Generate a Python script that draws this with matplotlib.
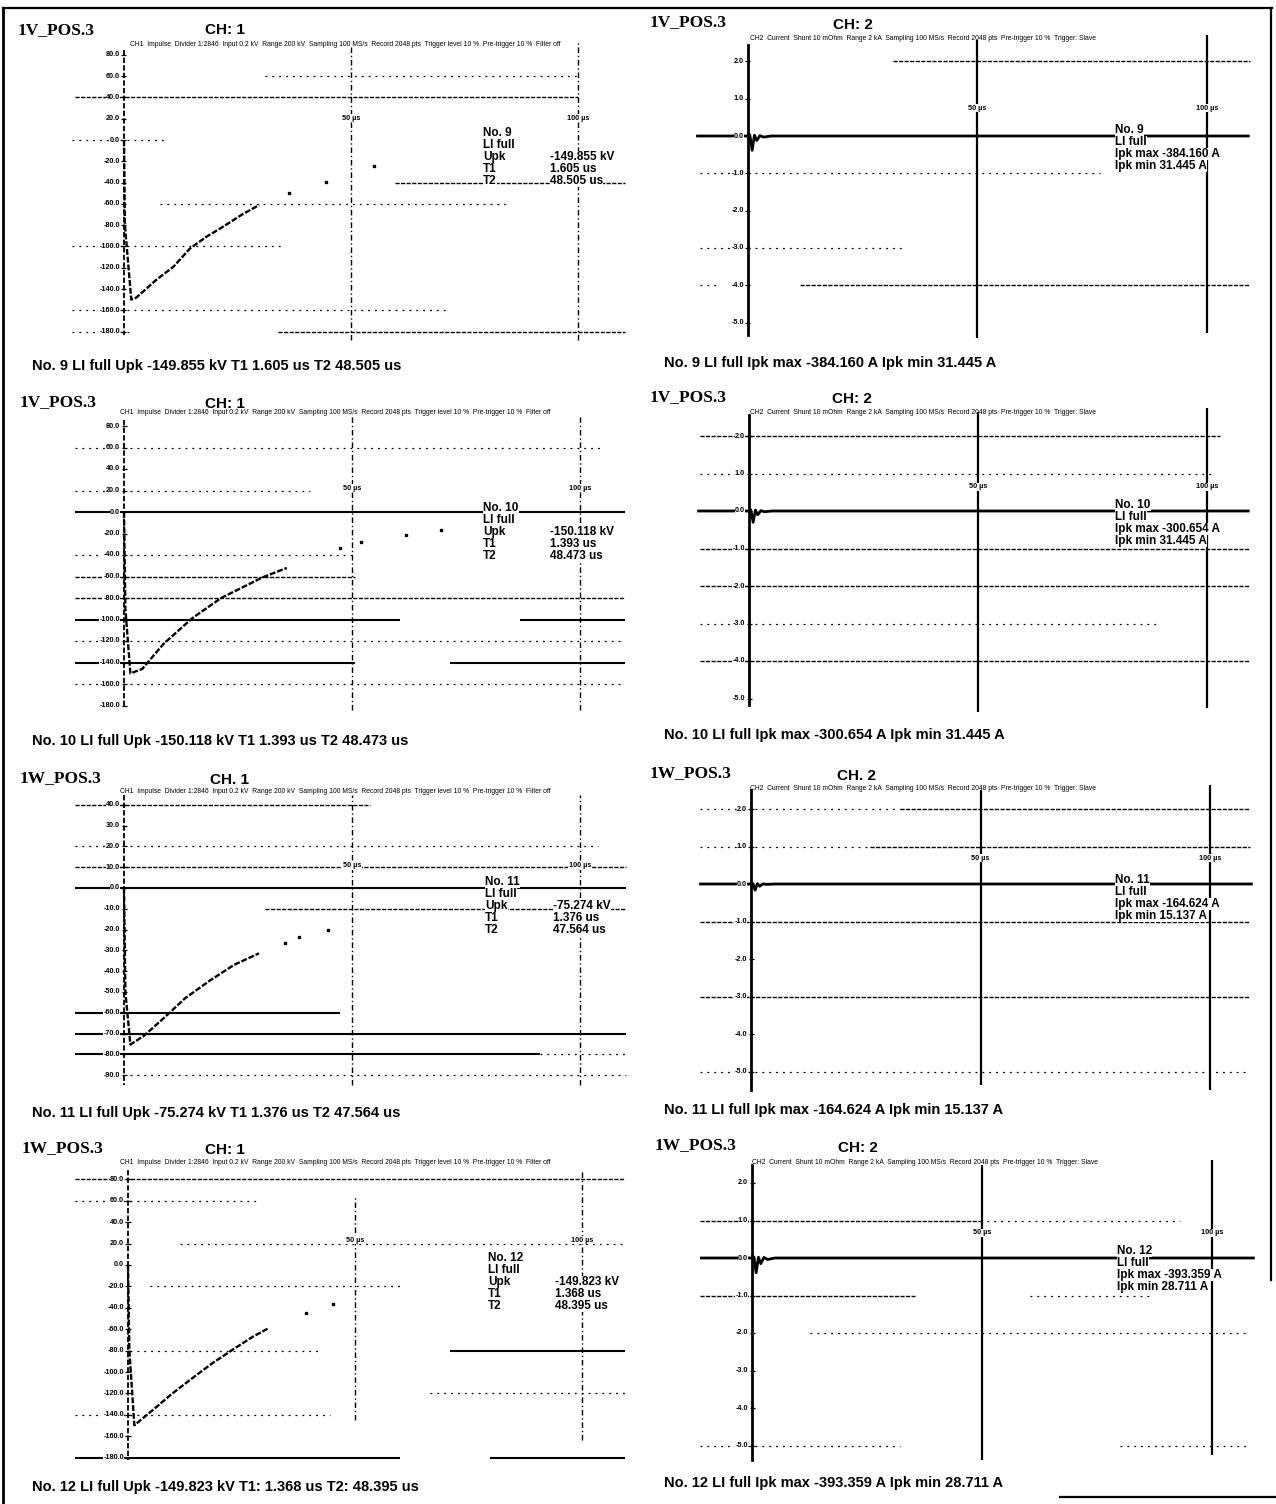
import matplotlib
matplotlib.use("Agg")
import matplotlib.pyplot as plt
from matplotlib.lines import Line2D

W, H = 1276, 1504

# Impulse records: one row per shot, CH1 = voltage, CH2 = current
RECORD_NO = [9, 10, 11, 12]
TEST_OBJECT = ["1V_POS.3", "1V_POS.3", "1W_POS.3", "1W_POS.3"]
CH1_NAME = ["CH: 1", "CH: 1", "CH. 1", "CH: 1"]
CH2_NAME = ["CH: 2", "CH: 2", "CH. 2", "CH: 2"]
UPK_KV = [-149.855, -150.118, -75.274, -149.823]
T1_US = [1.605, 1.393, 1.376, 1.368]
T2_US = [48.505, 48.473, 47.564, 48.395]
IPK_MAX_A = [-384.160, -300.654, -164.624, -393.359]
IPK_MIN_A = [31.445, 31.445, 15.137, 28.711]

MARKER_US = [50, 100]
MARKER_TEXT = ["50 µs", "100 µs"]

CH1_HEADER = ("CH1  Impulse  Divider 1:2846  Input 0.2 kV  Range 200 kV  "
              "Sampling 100 MS/s  Record 2048 pts  Trigger level 10 %  "
              "Pre-trigger 10 %  Filter off")
CH2_HEADER = ("CH2  Current  Shunt 10 mOhm  Range 2 kA  Sampling 100 MS/s  "
              "Record 2048 pts  Pre-trigger 10 %  Trigger: Slave")

# y-axis tick values
U_TICKS_KV = [
    list(range(80, -181, -20)),
    list(range(80, -181, -20)),
    list(range(40, -91, -10)),
    list(range(80, -181, -20)),
]
I_TICKS_A = list(range(2000, -5001, -1000))

# voltage traces, kV vs us (dense part of the record)
U_TIME = [
    [0.0, 0.2, 1.6, 2.7, 7.2, 10.9, 14.5, 18.1, 21.6, 26.0, 29.8],
    [0.0, 0.3, 1.4, 4.0, 8.6, 14.9, 21.3, 30.3, 35.7],
    [0.0, 0.3, 1.4, 4.4, 9.0, 13.4, 18.9, 24.1, 29.6],
    [0.0, 0.3, 1.4, 5.9, 9.5, 14.1, 18.5, 23.1, 27.5, 31.0],
]
U_VALUE = [
    [0, -80, UPK_KV[0], -148, -131, -119, -102, -91, -82, -70, -61],
    [0, -90, UPK_KV[1], -146, -123, -99, -80, -61, -52],
    [0, -50, UPK_KV[2], -71, -62, -53, -44.4, -37, -31.4],
    [0, -80, UPK_KV[3], -134, -121, -106, -92, -79, -67, -59],
]
# sparse samples on the tail
U_TAIL_TIME = [[36.4, 44.4, 55.0], [47.4, 52.0, 61.8, 69.5],
               [35.3, 38.4, 44.7], [39.2, 45.2]]
U_TAIL_VALUE = [[-50, -39, -24], [-33.5, -28, -21, -17],
                [-26.6, -23.7, -20], [-45, -36]]

# current traces, A vs us
I_TIME = [-11.0, 0.0, 0.4, 0.9, 1.4, 1.9, 2.6, 3.4, 5.0, 109.0]
I_VALUE = [
    [0, 0, IPK_MIN_A[0], IPK_MAX_A[0], 20, -120, 10, -30, 0, 0],
    [0, 0, IPK_MIN_A[1], IPK_MAX_A[1], 25, -100, 10, -20, 0, 0],
    [0, 0, IPK_MIN_A[2], IPK_MAX_A[2], 10, -60, 5, -10, 0, 0],
    [0, 0, IPK_MIN_A[3], IPK_MAX_A[3], 20, -150, 15, -40, 0, 0],
]

# grid rows as (level, from us, to us) with a parallel list of line kinds
U_GRID = [
    [(60, 31.1, 100), (40, -10.8, 100), (0, -11.5, 9), (-40, 59.7, 110.4),
     (-60, 7.9, 85), (-100, -11.5, 35.5), (-160, -11.5, 71.8),
     (-180, -11.5, 1.3), (-180, 33.9, 110.4)],
    [(60, -10.7, 104.4), (20, -10.7, 40.8), (0, -10.7, 109.9),
     (-40, -10.7, 50.7), (-60, -10.7, 50.7), (-80, -10.7, 109.9),
     (-100, -10.7, 60.5), (-100, 86.8, 109.9), (-120, -10.7, 109.9),
     (-140, -10.7, 50.7), (-140, 71.5, 109.9), (-160, -10.7, 109.9)],
    [(40, -10.7, 54), (20, -10.7, 104), (10, -10.7, 110), (0, -10.7, 110),
     (-10, 31, 110), (-60, -10.7, 47.4), (-70, -10.7, 110),
     (-80, -10.7, 91.2), (-80, 91.2, 110), (-90, 1.3, 110)],
    [(80, -11.7, 109.5), (60, -11.7, 29), (20, 11.5, 109.5), (-20, 4.8, 60),
     (-80, 0.4, 42.3), (-80, 70.9, 109.5), (-120, 66.5, 109.5),
     (-140, -11.7, 44.5), (-180, -11.7, 60), (-180, 79.7, 109.5)],
]
U_GRID_KIND = [
    ["sparse", "dense", "sparse", "dense", "sparse", "sparse", "sparse",
     "sparse", "dense"],
    ["sparse", "sparse", "solid", "sparse", "dense", "dense", "solid",
     "solid", "sparse", "solid", "solid", "sparse"],
    ["dense", "sparse", "dense", "solid", "dense", "solid", "solid",
     "solid", "sparse", "sparse"],
    ["dense", "sparse", "sparse", "sparse", "sparse", "solid", "sparse",
     "sparse", "solid", "solid"],
]
I_GRID = [
    [(2000, 31.6, 109.4), (-1000, -10.5, 76.7), (-3000, -10.5, 34.2),
     (-4000, -10.5, -6.1), (-4000, 11.3, 109.4)],
    [(2000, -10.7, 102.8), (1000, -10.7, 101.7), (-1000, -10.7, 109.4),
     (-2000, -10.7, 109.4), (-3000, -10.7, 89.7), (-4000, -10.7, 109.4)],
    [(2000, -11.1, 32.5), (2000, 32.5, 108.7), (1000, -11.1, 25.9),
     (1000, 25.9, 108.7), (-1000, -11.1, 108.7), (-3000, -11.1, 108.7),
     (-5000, -11.1, 108.7)],
    [(1000, -11.3, 49.6), (1000, 49.6, 93), (-1000, -11.3, 35.4),
     (-1000, 60.4, 86.5), (-2000, 12.6, 108.3), (-5000, -11.3, 32.2),
     (-5000, 80, 108.3)],
]
I_GRID_KIND = [
    ["dense", "sparse", "sparse", "sparse", "dense"],
    ["dense", "sparse", "dense", "dense", "sparse", "dense"],
    ["sparse", "dense", "sparse", "dense", "dense", "dense", "sparse"],
    ["dense", "sparse", "dense", "sparse", "sparse", "sparse", "sparse"],
]

# page layout in pixels: t0 = x of time zero, ppu = px per us,
# zero = y of the zero level, ppv = px per unit of the channel
U_LAYOUT = [
    dict(t0=124, ppu=4.54, zero=140, ppv=1.065, axis=(50, 335),
         vlines=((45, 340), (40, 340)), title=(18, 30), chan=(205, 30),
         header=(130, 45), caption=(32, 366), note=(483, 133), note_val=550,
         mark_y=118),
    dict(t0=124, ppu=4.56, zero=512, ppv=1.075, axis=(420, 707),
         vlines=((415, 710), (415, 710)), title=(20, 402), chan=(205, 404),
         header=(120, 413), caption=(32, 741), note=(483, 508), note_val=550,
         mark_y=488),
    dict(t0=124, ppu=4.56, zero=888, ppv=2.08, axis=(795, 1085),
         vlines=((795, 1085), (795, 1085)), title=(20, 778), chan=(210, 780),
         header=(120, 792), caption=(32, 1113), note=(485, 882), note_val=553,
         mark_y=866),
    dict(t0=128, ppu=4.54, zero=1265, ppv=1.07, axis=(1170, 1460),
         vlines=((1195, 1420), (1170, 1440)), title=(22, 1148), chan=(205, 1150),
         header=(120, 1163), caption=(32, 1487), note=(488, 1258), note_val=555,
         mark_y=1240),
]
I_LAYOUT = [
    dict(t0=748, ppu=4.59, zero=136, ppv=0.0373, axis=(45, 335),
         vlines=((40, 338), (35, 333)), title=(650, 22), chan=(833, 25),
         header=(750, 38), caption=(664, 363), note=(1115, 130), mark_y=108),
    dict(t0=749, ppu=4.58, zero=511, ppv=0.0375, axis=(415, 705),
         vlines=((412, 712), (408, 708)), title=(650, 397), chan=(832, 399),
         header=(750, 412), caption=(664, 735), note=(1115, 505), mark_y=487),
    dict(t0=751, ppu=4.59, zero=884, ppv=0.0375, axis=(790, 1090),
         vlines=((790, 1085), (785, 1090)), title=(650, 773), chan=(837, 776),
         header=(750, 788), caption=(664, 1110), note=(1115, 880), mark_y=858),
    dict(t0=752, ppu=4.6, zero=1258, ppv=0.0375, axis=(1165, 1460),
         vlines=((1165, 1460), (1160, 1455)), title=(655, 1145), chan=(838, 1148),
         header=(752, 1162), caption=(664, 1483), note=(1117, 1251), mark_y=1233),
]

GRID_STYLE = {
    "solid": dict(linestyles="solid", linewidths=1.5),
    "dense": dict(linestyles=(0, (3, 1)), linewidths=1.0),
    "sparse": dict(linestyles=(0, (1.5, 4)), linewidths=0.9),
}
SANS = ["Liberation Sans", "DejaVu Sans"]
SERIF = ["Liberation Serif", "DejaVu Serif"]
WHITE_BOX = dict(facecolor="white", edgecolor="none", pad=0.2)

fig = plt.figure(figsize=(W / 100, H / 100), dpi=100)
fig.patch.set_facecolor("white")


def fig_text(x, y, s, **kw):
    kw.setdefault("family", SANS)
    kw.setdefault("color", "black")
    fig.text(x / W, 1 - y / H, s, **kw)


def panel_axes(lay):
    x0, x1 = lay["t0"] - 75, lay["t0"] + 505
    y0, y1 = lay["axis"][0] - 20, lay["axis"][1] + 12
    ax = fig.add_axes([x0 / W, 1 - y1 / H, (x1 - x0) / W, (y1 - y0) / H])
    ax.set_xlim(-75 / lay["ppu"], 505 / lay["ppu"])
    ax.set_ylim((lay["zero"] - y1) / lay["ppv"], (lay["zero"] - y0) / lay["ppv"])
    ax.axis("off")
    return ax


def val(lay, py):
    return (lay["zero"] - py) / lay["ppv"]


def draw_frame(ax, lay, ticks, labels, grid, kinds, solid_axis):
    for (level, ta, tb), kind in zip(grid, kinds):
        ax.hlines(level, ta, tb, colors="black", **GRID_STYLE[kind])
    top, bot = val(lay, lay["axis"][0]), val(lay, lay["axis"][1])
    if solid_axis:
        ax.plot([0, 0], [top, bot], color="black", lw=2.0)
    else:
        ax.plot([0, 0], [top, bot], color="black", lw=1.3, ls=(0, (3, 1.2)))
    tick_w = 2.5 / lay["ppu"]
    ax.hlines(ticks, -tick_w, tick_w, colors="black", linewidths=0.9)
    for v, lab in zip(ticks, labels):
        ax.text(-4 / lay["ppu"], v, lab, ha="right", va="center",
                fontsize=5.2, family=SANS, fontweight="bold",
                bbox=dict(facecolor="white", edgecolor="none", pad=0.1))
    for t, (ya, yb), txt in zip(MARKER_US, lay["vlines"], MARKER_TEXT):
        if solid_axis:
            ax.vlines(t, val(lay, yb), val(lay, ya), colors="black", lw=1.6)
        else:
            ax.vlines(t, val(lay, yb), val(lay, ya), colors="black", lw=1.0,
                      linestyles=(0, (4, 2, 1, 2)))
        ax.text(t, val(lay, lay["mark_y"]), txt, ha="center", va="center",
                fontsize=5.2, family=SANS, fontweight="bold",
                bbox=dict(facecolor="white", edgecolor="none", pad=0.3))


def draw_heading(lay, obj, chan, header):
    fig_text(*lay["title"], obj, family=SERIF, fontsize=12.5,
             fontweight="bold", va="center")
    fig_text(*lay["chan"], chan, fontsize=11, fontweight="bold", va="center")
    fig_text(*lay["header"], header, fontsize=4.9, va="center")


for k in range(4):
    # CH1: voltage
    lay = U_LAYOUT[k]
    ax = panel_axes(lay)
    draw_frame(ax, lay, U_TICKS_KV[k], [f"{v:.1f}" for v in U_TICKS_KV[k]],
               U_GRID[k], U_GRID_KIND[k], solid_axis=False)
    ax.plot(U_TIME[k], U_VALUE[k], color="black", lw=1.7, ls=(0, (2.5, 0.8)),
            solid_capstyle="butt")
    ax.plot(U_TAIL_TIME[k], U_TAIL_VALUE[k], ls="none", marker="s",
            ms=1.8, color="black")
    draw_heading(lay, TEST_OBJECT[k], CH1_NAME[k], CH1_HEADER)
    nx, ny = lay["note"]
    rows = [f"No. {RECORD_NO[k]}", "LI full", "Upk", "T1", "T2"]
    vals = [f"{UPK_KV[k]:.3f} kV", f"{T1_US[k]:.3f} us", f"{T2_US[k]:.3f} us"]
    for j, s in enumerate(rows):
        fig_text(nx, ny + 12 * j, s, fontsize=8.5, fontweight="bold",
                 va="center", bbox=WHITE_BOX)
    for j, s in enumerate(vals):
        fig_text(lay["note_val"], ny + 12 * (j + 2), s, fontsize=8.5,
                 fontweight="bold", va="center", bbox=WHITE_BOX)
    sep = ":" if k == 3 else ""
    fig_text(*lay["caption"],
             f"No. {RECORD_NO[k]} LI full Upk {UPK_KV[k]:.3f} kV "
             f"T1{sep} {T1_US[k]:.3f} us T2{sep} {T2_US[k]:.3f} us",
             fontsize=10.5, fontweight="bold", va="center")

    # CH2: current
    lay = I_LAYOUT[k]
    ax = panel_axes(lay)
    draw_frame(ax, lay, I_TICKS_A, [f"{v / 1000:.1f}" for v in I_TICKS_A],
               I_GRID[k], I_GRID_KIND[k], solid_axis=True)
    ax.plot(I_TIME, I_VALUE[k], color="black", lw=2.0)
    draw_heading(lay, TEST_OBJECT[k], CH2_NAME[k], CH2_HEADER)
    nx, ny = lay["note"]
    rows = [f"No. {RECORD_NO[k]}", "LI full",
            f"Ipk max {IPK_MAX_A[k]:.3f} A", f"Ipk min {IPK_MIN_A[k]:.3f} A"]
    for j, s in enumerate(rows):
        fig_text(nx, ny + 12 * j, s, fontsize=8.5, fontweight="bold",
                 va="center", bbox=WHITE_BOX)
    fig_text(*lay["caption"],
             f"No. {RECORD_NO[k]} LI full Ipk max {IPK_MAX_A[k]:.3f} A "
             f"Ipk min {IPK_MIN_A[k]:.3f} A",
             fontsize=10.5, fontweight="bold", va="center")

# sheet border
border = [((3, 3), (8, 1504), 2.0), ((3, 1272), (8, 8), 1.6),
          ((1271, 1271), (8, 1280), 1.6), ((1060, 1276), (1497, 1497), 1.6)]
for xs, ys, lw in border:
    fig.add_artist(Line2D([x / W for x in xs], [1 - y / H for y in ys],
                          transform=fig.transFigure, color="black", lw=lw))

fig.savefig("out.png", dpi=100, facecolor="white")
